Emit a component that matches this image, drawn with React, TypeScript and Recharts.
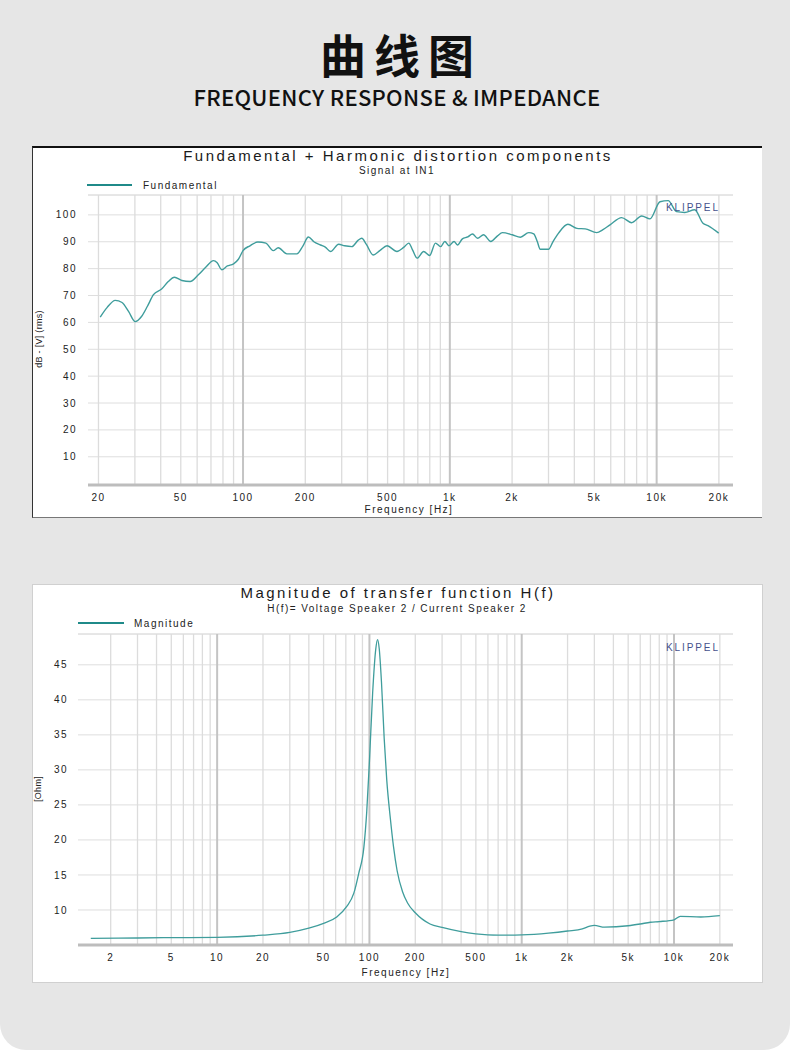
import { LineChart, Line, XAxis, YAxis, CartesianGrid, ReferenceLine } from 'recharts';

// 频响曲线（Fundamental）
const fundFreq = [
  20.4, 22, 24.1, 26, 28, 30.1, 32.3, 34.5, 36.9, 40.4, 43.5, 46.6, 50.6, 55.5, 60.8, 66, 72, 75, 78.9, 84,
  90, 95, 100, 108, 118, 129, 140, 148, 163, 182, 195, 207, 220, 237, 250, 265, 290, 310, 336, 360,
  375, 395, 426, 460, 497, 555, 600, 633, 660, 695, 747, 799, 852, 902, 946, 990, 1048, 1088, 1150, 1220,
  1287, 1362, 1455, 1578, 1700, 1795, 2004, 2196, 2407, 2545, 2650, 2735, 3000, 3150, 3355, 3723, 4115, 4513, 5133, 5500,
  5951, 6772, 7570, 8463, 9285, 10380, 11370, 12480, 13680, 15280, 16750, 17710, 19960,
];
const fundDb = [
  62.0, 65.5, 68.2, 67.4, 64, 60.3, 62.2, 66, 70.3, 72.4, 75.2, 76.8, 75.6, 75.2, 77.7, 80.5, 83.0, 82.2, 79.6, 81,
  81.8, 83.5, 86.7, 88.5, 89.9, 89.5, 86.7, 87.8, 85.5, 85.5, 88.5, 91.8, 90, 88.8, 88, 86.4, 89.1, 88.5, 88.2, 90.5,
  91.3, 89, 85.1, 86.8, 88.5, 86.4, 88, 89.5, 87, 83.9, 86.4, 84.9, 89.5, 88.2, 90.1, 88.5, 90.1, 88.8, 91.1, 91.8,
  92.9, 91.3, 92.6, 90.1, 92.2, 93.4, 92.6, 91.7, 93.4, 92.9, 90, 87.2, 87.2, 90, 93.2, 96.5, 95.0, 94.8, 93.4, 94.5,
  96.3, 99.0, 97.1, 99.6, 98.5, 104.9, 105.3, 101.2, 100.9, 101.9, 96.9, 96.0, 93.2,
];

// 阻抗曲线（Magnitude）
const impFreq = [
  1.48, 3, 5, 10, 20, 30, 40, 50, 61, 71, 79, 85, 92, 96, 100, 105, 110, 113, 116, 120,
  125, 130, 137, 144, 152, 165, 178, 200, 250, 300, 400, 500, 700, 1000, 1500, 2000, 2500, 2800, 3000, 3500, 5000,
  6000, 7000, 8000, 10000, 11000, 15000, 20000,
];
const impOhm = [
  5.95, 6.0, 6.05, 6.1, 6.4, 6.8, 7.4, 8.1, 9.0, 10.5, 12.4, 15.2, 19.0, 24.0, 31.2, 41, 47.2, 48.6, 47.3, 42.5,
  34.5, 28.5, 23.2, 19.0, 15.6, 12.6, 11.0, 9.6, 8.0, 7.5, 6.9, 6.6, 6.4, 6.45, 6.7, 7.0, 7.3, 7.7, 7.8, 7.55, 7.75,
  8.0, 8.25, 8.35, 8.6, 9.1, 9.0, 9.2,
];

const fundTicks = [20, 50, 100, 200, 500, 1000, 2000, 5000, 10000, 20000];
const fundGrid = [20, 30, 40, 50, 60, 70, 80, 90, 200, 300, 400, 500, 600, 700, 800, 900, 2000, 3000, 4000, 5000, 6000, 7000, 8000, 9000, 20000];
const fundDecades = [100, 1000, 10000];
const dbTicks = [10, 20, 30, 40, 50, 60, 70, 80, 90, 100];
const dbMinor = [0, 2, 4, 6, 8, 10, 12, 14, 16, 18, 20, 22, 24, 26, 28, 30, 32, 34, 36, 38, 40, 42, 44, 46, 48, 50, 52, 54, 56, 58, 60, 62, 64, 66, 68, 70, 72, 74, 76, 78, 80, 82, 84, 86, 88, 90, 92, 94, 96, 98, 100, 102, 104, 106];

const impTicks = [2, 5, 10, 20, 50, 100, 200, 500, 1000, 2000, 5000, 10000, 20000];
const impGrid = [2, 3, 4, 5, 6, 7, 8, 9, 20, 30, 40, 50, 60, 70, 80, 90, 200, 300, 400, 500, 600, 700, 800, 900, 2000, 3000, 4000, 5000, 6000, 7000, 8000, 9000, 20000];
const impDecades = [10, 100, 1000, 10000];
const ohmTicks = [10, 15, 20, 25, 30, 35, 40, 45];
const ohmMinor = [6, 7, 8, 9, 10, 11, 12, 13, 14, 15, 16, 17, 18, 19, 20, 21, 22, 23, 24, 25, 26, 27, 28, 29, 30, 31, 32, 33, 34, 35, 36, 37, 38, 39, 40, 41, 42, 43, 44, 45, 46, 47, 48, 49];

const FONT = '"Liberation Sans", Arial, sans-serif';
const CURVE = '#3f9d9c';
const tickStyle = { fontSize: 10, fill: '#222', fontFamily: FONT, letterSpacing: 1.5 };
const fmtHz = (v: number) => (v >= 1000 ? `${v / 1000}k` : `${v}`);

function Overlay({ w, h, title, sub, legend, legendX, legendLine, yLabel, yLabelX, yLabelY, titleY, subY, freqX, freqY, klippelY, legendY }: any) {
  return (
    <svg width={w} height={h} style={{ position: 'absolute', left: 0, top: 0, pointerEvents: 'none' }}>
      <text x={366} y={titleY} textAnchor="middle" fontSize={15} fill="#1a1a1a" fontFamily={FONT} letterSpacing={2.5}>{title}</text>
      <text x={365} y={subY} textAnchor="middle" fontSize={10} fill="#222" fontFamily={FONT} letterSpacing={1.45}>{sub}</text>
      <line x1={legendLine[0]} x2={legendLine[1]} y1={legendY} y2={legendY} stroke="#1f8a89" strokeWidth={2} />
      <text x={legendX} y={legendY + 3.5} fontSize={10} fill="#222" fontFamily={FONT} letterSpacing={1.5}>{legend}</text>
      <text x={634} y={klippelY} fontSize={10} fill="#46518c" fontFamily={FONT} letterSpacing={1.9}>KLIPPEL</text>
      <text x={yLabelX} y={yLabelY} transform={`rotate(-90 ${yLabelX} ${yLabelY})`} textAnchor="middle" fontSize={9} fill="#222" fontFamily={FONT} letterSpacing={0.3}>{yLabel}</text>
      <text x={freqX} y={freqY} textAnchor="middle" fontSize={10} fill="#222" fontFamily={FONT} letterSpacing={1.5}>Frequency [Hz]</text>
    </svg>
  );
}

function FundamentalChart() {
  const data = fundFreq.map((f, i) => ({ f, v: fundDb[i] }));
  const yDom: [number, number] = [-0.5, 107.4];
  return (
    <div style={{ position: 'absolute', left: 32, top: 146, width: 730, height: 372, background: '#fff' }}>
      <LineChart width={730} height={372} data={data} margin={{ top: 49, right: 29, left: 16, bottom: 8 }}>
        <CartesianGrid vertical={false} stroke="#dedede" />
        <XAxis dataKey="f" type="number" scale="log" domain={[17.8, 23400]} allowDataOverflow ticks={fundTicks} interval={0}
          tickFormatter={fmtHz} height={25} tickLine={false} tickSize={6} tickMargin={3} tick={tickStyle}
          axisLine={{ stroke: '#bdbdbd', strokeWidth: 3 }} />
        <YAxis domain={yDom} allowDataOverflow ticks={dbTicks} width={40} tickLine={false} tickSize={8} tickMargin={3}
          axisLine={false} tick={tickStyle} />
        <YAxis yAxisId="minor" domain={yDom} allowDataOverflow ticks={dbMinor} width={0} mirror tick={false} tickSize={8}
          tickLine={{ stroke: '#d6d6d6' }} axisLine={false} />
        <YAxis yAxisId="right" orientation="right" domain={yDom} width={0} tick={false} tickLine={false}
          axisLine={{ stroke: '#c6c6c6', strokeWidth: 3 }} />
        <ReferenceLine y={107.4} stroke="#dedede" />
        {fundGrid.map((g) => (
          <ReferenceLine key={g} x={g} stroke="#dcdcdc" strokeWidth={1.3} />
        ))}
        {fundDecades.map((g) => (
          <ReferenceLine key={g} x={g} stroke="#c4c4c4" strokeWidth={2} />
        ))}
        <Line type="monotone" dataKey="v" stroke={CURVE} strokeWidth={1.4} dot={false} isAnimationActive={false} />
      </LineChart>
      <Overlay w={730} h={372} title="Fundamental + Harmonic distortion components" sub="Signal at IN1"
        legend="Fundamental" legendX={111} legendLine={[55, 100]} legendY={39} titleY={15} subY={28}
        yLabel="dB - [V] (rms)" yLabelX={10} yLabelY={193} freqX={377} freqY={367} klippelY={65} />
      <div style={{ position: 'absolute', left: 0, top: 0, width: 730, height: 372, boxSizing: 'border-box',
        borderTop: '2px solid #111', borderLeft: '1px solid #333', borderBottom: '1px solid #777' }} />
    </div>
  );
}

function ImpedanceChart() {
  const data = impFreq.map((f, i) => ({ f, v: impOhm[i] }));
  const yDom: [number, number] = [5, 49.4];
  return (
    <div style={{ position: 'absolute', left: 32, top: 584, width: 731, height: 399, background: '#fff' }}>
      <LineChart width={731} height={399} data={data} margin={{ top: 50, right: 30, left: 10, bottom: 13 }}>
        <CartesianGrid vertical={false} stroke="#dedede" />
        <XAxis dataKey="f" type="number" scale="log" domain={[1.22, 24400]} allowDataOverflow ticks={impTicks} interval={0}
          tickFormatter={fmtHz} height={25} tickLine={false} tickSize={6} tickMargin={3} tick={tickStyle}
          axisLine={{ stroke: '#bdbdbd', strokeWidth: 3 }} />
        <YAxis domain={yDom} allowDataOverflow ticks={ohmTicks} width={36} tickLine={false} tickSize={7} tickMargin={3}
          axisLine={false} tick={tickStyle} />
        <YAxis yAxisId="minor" domain={yDom} allowDataOverflow ticks={ohmMinor} width={0} mirror tick={false} tickSize={8}
          tickLine={{ stroke: '#d6d6d6' }} axisLine={false} />
        <YAxis yAxisId="right" orientation="right" domain={yDom} width={0} tick={false} tickLine={false}
          axisLine={{ stroke: '#c6c6c6', strokeWidth: 3 }} />
        <ReferenceLine y={49.4} stroke="#dedede" />
        {impGrid.map((g) => (
          <ReferenceLine key={g} x={g} stroke="#dcdcdc" strokeWidth={1.3} />
        ))}
        {impDecades.map((g) => (
          <ReferenceLine key={g} x={g} stroke="#c4c4c4" strokeWidth={2} />
        ))}
        <Line type="monotone" dataKey="v" stroke={CURVE} strokeWidth={1.3} dot={false} isAnimationActive={false} />
      </LineChart>
      <Overlay w={731} h={399} title="Magnitude of transfer function H(f)" sub="H(f)= Voltage Speaker 2 / Current Speaker 2"
        legend="Magnitude" legendX={102} legendLine={[46, 92]} legendY={39} titleY={14} subY={28}
        yLabel="[Ohm]" yLabelX={9} yLabelY={205} freqX={374} freqY={392} klippelY={67} />
      <div style={{ position: 'absolute', left: 0, top: 0, width: 731, height: 399, boxSizing: 'border-box',
        border: '1px solid #d0d0d0' }} />
    </div>
  );
}

export default function App() {
  return (
    <div style={{ position: 'absolute', left: 0, top: 0, width: 790, height: 1050, background: '#fff', overflow: 'hidden' }}>
      <div style={{ position: 'absolute', left: 0, top: 0, width: 790, height: 1050, background: '#e6e6e6',
        borderRadius: '0 0 26px 26px' }} />
      <div style={{ position: 'absolute', left: 0, top: 30, width: 790, textAlign: 'center', fontFamily: '"Noto Sans CJK SC", sans-serif',
        fontWeight: 700, fontSize: 46, lineHeight: '46px', letterSpacing: 8, paddingLeft: 12, boxSizing: 'border-box', color: '#111' }}>
        曲线图
      </div>
      <div style={{ position: 'absolute', left: 0, top: 85, width: 790, textAlign: 'center', fontFamily: '"Noto Sans CJK SC", sans-serif',
        fontWeight: 500, fontSize: 22, lineHeight: '22px', letterSpacing: 0.3, color: '#111', paddingLeft: 4, boxSizing: 'border-box' }}>
        FREQUENCY RESPONSE &amp; IMPEDANCE
      </div>
      <FundamentalChart />
      <ImpedanceChart />
    </div>
  );
}
